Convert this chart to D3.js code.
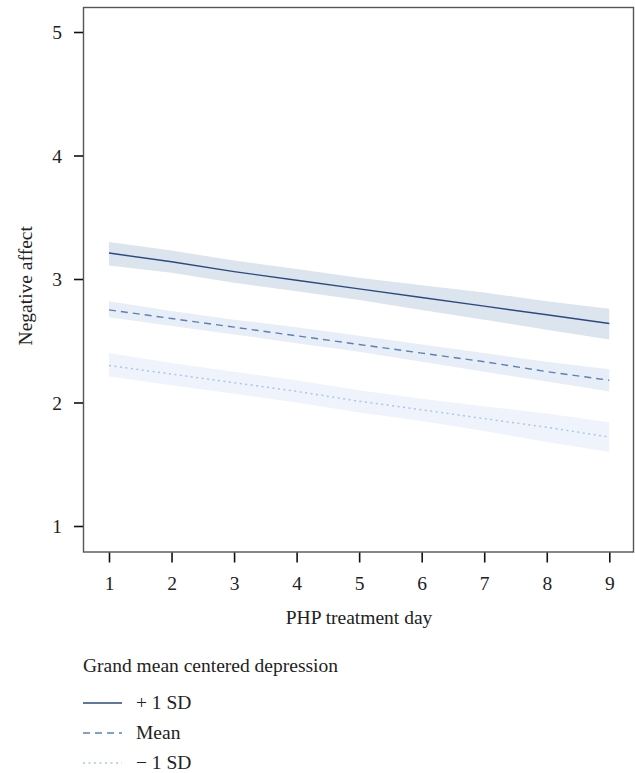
<!DOCTYPE html>
<html><head><meta charset="utf-8">
<script src="https://cdn.jsdelivr.net/npm/d3@7"></script>
<style>body{margin:0;background:#fff}svg{display:block}text{font-family:"Liberation Serif","DejaVu Serif",serif;fill:#222}</style>
</head><body>
<svg id="c" width="635" height="773"></svg>
<script>
const days = [1,2,3,4,5,6,7,8,9];
const yTicks = [1,2,3,4,5];
const seriesNames = ["+ 1 SD","Mean","\u2212 1 SD"];
const plusFit   = [3.21,3.14,3.06,2.99,2.92,2.85,2.78,2.71,2.64];
const plusLo    = [3.11,3.05,2.97,2.90,2.83,2.75,2.67,2.59,2.51];
const plusHi    = [3.30,3.23,3.15,3.08,3.01,2.95,2.89,2.82,2.76];
const meanFit   = [2.75,2.68,2.61,2.54,2.47,2.40,2.33,2.25,2.18];
const meanLo    = [2.69,2.62,2.55,2.48,2.41,2.33,2.25,2.17,2.09];
const meanHi    = [2.82,2.74,2.67,2.61,2.54,2.47,2.40,2.33,2.27];
const minusFit  = [2.30,2.23,2.16,2.09,2.01,1.94,1.87,1.80,1.72];
const minusLo   = [2.21,2.14,2.07,2.00,1.92,1.85,1.77,1.68,1.60];
const minusHi   = [2.40,2.32,2.25,2.18,2.10,2.03,1.97,1.91,1.84];

const series = [
  {name:seriesNames[0], fit:plusFit, lo:plusLo, hi:plusHi, line:"#2a4b80", band:"#dce4ee", dash:null, w:1.4},
  {name:seriesNames[1], fit:meanFit, lo:meanLo, hi:meanHi, line:"#5b81b9", band:"#e7eef8", dash:"7,5", w:1.4},
  {name:seriesNames[2], fit:minusFit, lo:minusLo, hi:minusHi, line:"#a9c6ea", band:"#eff4fc", dash:"2,3.5", w:1.5}
];

const FS = 19.5;
const svg = d3.select("#c");
const L=83.5, R=633.5, T=7.5, B=552;
const x = d3.scaleLinear().domain([1,9]).range([109,609.3]);
const y = d3.scaleLinear().domain([1,5]).range([526,32]);

series.forEach(s=>{
  const area = d3.area().x((d,i)=>x(days[i])).y0((d,i)=>y(s.lo[i])).y1((d,i)=>y(s.hi[i]));
  svg.append("path").attr("d", area(days)).attr("fill", s.band);
});
series.forEach(s=>{
  const line = d3.line().x((d,i)=>x(days[i])).y((d,i)=>y(s.fit[i]));
  svg.append("path").attr("d", line(days)).attr("fill","none").attr("stroke",s.line)
    .attr("stroke-width",s.w).attr("stroke-dasharray",s.dash);
});

svg.append("rect").attr("x",L).attr("y",T).attr("width",R-L).attr("height",B-T)
  .attr("fill","none").attr("stroke","#555").attr("stroke-width",1.4);

const xa = svg.append("g").attr("transform",`translate(0,${B+0.5})`)
  .call(d3.axisBottom(x).tickValues(days).tickFormat(d3.format("d")).tickSize(10));
const ya = svg.append("g").attr("transform",`translate(${L-0.5},0)`)
  .call(d3.axisLeft(y).tickValues(yTicks).tickFormat(d3.format("d")).tickSize(9));
[xa,ya].forEach(g=>{
  g.select(".domain").remove();
  g.selectAll(".tick line").attr("stroke","#111").attr("stroke-width",1.6);
  g.selectAll(".tick text").attr("font-size",FS).attr("font-family",null).attr("fill","#222");
});
xa.selectAll(".tick text").attr("y",37.5).attr("dy",null);
ya.selectAll(".tick text").attr("x",-21).attr("dy","0.34em");

svg.append("text").attr("x",(L+R)/2+0.5).attr("y",624).attr("text-anchor","middle").attr("font-size",FS).text("PHP treatment day");
svg.append("text").attr("transform",`translate(32,${(T+B)/2+6}) rotate(-90)`).attr("text-anchor","middle").attr("font-size",FS).text("Negative affect");

svg.append("text").attr("x",83).attr("y",672).attr("font-size",FS).text("Grand mean centered depression");
series.forEach((s,i)=>{
  const ly = 703 + i*30;
  svg.append("line").attr("x1",83).attr("x2",122).attr("y1",ly).attr("y2",ly)
    .attr("stroke",s.line).attr("stroke-width",s.w).attr("stroke-dasharray",s.dash);
  svg.append("text").attr("x",136).attr("y",ly+5.5).attr("font-size",FS).text(s.name);
});
</script>
</body></html>
